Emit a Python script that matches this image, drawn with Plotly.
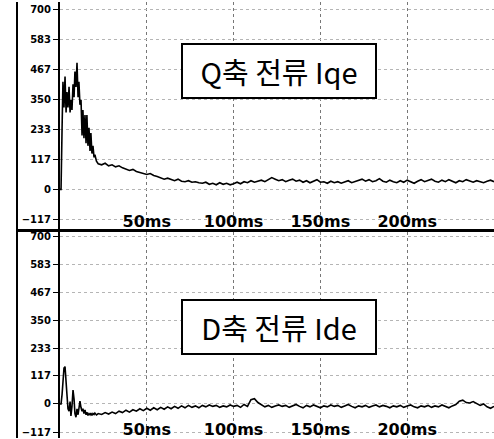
import plotly.graph_objects as go

# ---- data ----
y_ticks = [-117, 0, 117, 233, 350, 467, 583, 700]
x_ticks = [50, 100, 150, 200]
x_tick_text = ["50ms", "100ms", "150ms", "200ms"]

early_t = [0, 0.6, 1.2, 1.7, 2.3, 2.9, 3.5, 4.0, 4.6, 5.2, 5.8, 6.3, 6.9, 7.5, 8.1, 8.6,
           9.2, 9.8, 10.4, 10.9, 11.5, 12.1, 12.7, 13.2, 13.8, 14.4, 15.0, 15.5, 16.1,
           16.7, 17.3, 17.8, 18.4, 19.0, 19.6, 20.1, 21.0]
late_t = [22, 24, 26, 28, 30, 32, 34, 36, 38, 40, 42, 44, 46, 48, 50, 52, 54, 56, 58, 60,
          62, 64, 66, 68, 70, 72, 74, 76, 78, 80, 82, 84, 86, 88, 90, 92, 94, 96, 98, 100,
          102, 104, 106, 108, 110, 112, 114, 116, 118, 120, 122, 124, 126, 128, 130, 132,
          134, 136, 138, 140, 142, 144, 146, 148, 150, 152, 154, 156, 158, 160, 162, 164,
          166, 168, 170, 172, 174, 176, 178, 180, 182, 184, 186, 188, 190, 192, 194, 196,
          198, 200, 202, 204, 206, 208, 210, 212, 214, 216, 218, 220, 222, 224, 226, 228,
          230, 232, 234, 236, 238, 240, 242, 244, 246, 248, 250]
time_ms = early_t + late_t

iqe_early = [0, 0, 240, 420, 320, 440, 300, 380, 320, 400, 300, 350, 310, 410, 360, 460,
             400, 494, 360, 420, 330, 350, 210, 310, 200, 290, 180, 290, 170, 240, 150,
             220, 140, 170, 125, 135, 110]
iqe_late = [100, 96, 102, 92, 96, 88, 92, 84, 80, 74, 78, 70, 66, 62, 58, 62, 54, 50, 46, 40,
            44, 38, 34, 40, 32, 30, 34, 28, 30, 26, 24, 28, 20, 24, 18, 26, 20, 24, 18, 22,
            28, 22, 30, 26, 34, 28, 32, 36, 30, 38, 46, 40, 34, 38, 30, 36,
            40, 32, 36, 28, 34, 26, 32, 38, 28, 30, 24, 32, 26, 30, 24, 28,
            34, 26, 30, 36, 40, 32, 38, 30, 34, 42, 32, 28, 36, 30, 26, 34,
            28, 36, 30, 24, 32, 38, 30, 34, 40, 32, 28, 36, 30, 38, 32, 26,
            34, 30, 38, 32, 28, 34, 30, 26, 32, 36, 30]
iqe = iqe_early + iqe_late

ide_early = [0, 0, 40, 100, 150, 156, 110, 40, -20, -30, 10, -50, -10, 58, 20, -40,
             -55, -20, -45, -10, 12, -15, -30, -20, -40, -25, -45, -35, -48, -40, -45,
             -38, -48, -40, -44, -38, -46]
ide_late = [-40, -44, -36, -42, -34, -40, -30, -36, -26, -34, -24, -30, -20, -28, -18, -26,
            -16, -24, -14, -22, -12, -20, -10, -18, -8, -16, -6, -14, -8, -16, -6, -12,
            -4, -10, -6, -14, -8, -12, -4, -10, -6, -14, -2, -10, 18, 22, 6, -4, -12, -6,
            -14, -8, -4, -10, -6, -14, -8, -2, -10, -16, -6, -12, -4, -10, -16, -8, -12,
            -4, -10, -6, -14, -8, -2, -10, -16, -8, -12, -6, -14, -8, -4, -12, -6, -10,
            -16, -8, -12, -6, -14, -8, -4, -12, -16, -8, -12, -6, -14, -8, -12, -4, -10,
            -16, -8, -2, 12, 16, 6, 4, 10, 2, -6, 0, -12, -18, -10]
ide = ide_early + ide_late

q_label = "Q축 전류 Iqe"
d_label = "D축 전류 Ide"

# ---- figure ----
fig = go.Figure()
fig.add_trace(go.Scatter(x=time_ms, y=iqe, mode="lines", xaxis="x", yaxis="y",
                         line=dict(color="black", width=1.6), showlegend=False))
fig.add_trace(go.Scatter(x=time_ms, y=ide, mode="lines", xaxis="x2", yaxis="y2",
                         line=dict(color="black", width=1.6), showlegend=False))

W, H = 494, 439
ML = 60
top_split = 230
y_top_dom = [1 - top_split / H, 1]
y_bot_dom = [0, 1 - (top_split + 2) / H]

tickfont_y = dict(family="DejaVu Sans", size=10, color="black", weight="bold")
tickfont_x = dict(family="DejaVu Sans", size=16, color="black", weight="bold")

common_x = dict(range=[0, 250], tickvals=x_ticks, ticktext=x_tick_text,
                ticks="", ticklabelstandoff=-20, showgrid=True,
                gridcolor="#777", griddash="dot", gridwidth=1, zeroline=False,
                tickfont=tickfont_x, showline=False)
common_y = dict(tickvals=y_ticks, ticks="outside", ticklen=5, tickwidth=1,
                tickcolor="black", showgrid=True, gridcolor="#b5b5b5",
                griddash="dot", gridwidth=1, zeroline=False, tickfont=tickfont_y,
                showline=True, linecolor="black", linewidth=2)

fig.update_layout(
    width=W, height=H,
    margin=dict(l=ML, r=0, t=0, b=0),
    paper_bgcolor="white", plot_bgcolor="white",
    xaxis=dict(domain=[0, 1], anchor="y", **common_x),
    yaxis=dict(domain=y_top_dom, anchor="x", range=[-160, 731], **common_y),
    xaxis2=dict(domain=[0, 1], anchor="y2", **common_x),
    yaxis2=dict(domain=y_bot_dom, anchor="x2", range=[-142, 716], **common_y),
)

pw = W - ML
left_border = (17 - ML) / pw
split_y = 1 - top_split / H
fig.add_shape(type="line", xref="paper", yref="paper", x0=left_border, x1=1,
              y0=split_y, y1=split_y, line=dict(color="black", width=3))
fig.add_shape(type="line", xref="paper", yref="paper", x0=left_border, x1=left_border,
              y0=0, y1=1, line=dict(color="black", width=2))

box_font = dict(family="Noto Sans CJK KR", size=29, color="black")
for label, cy in [(q_label, 69), (d_label, 327)]:
    fig.add_annotation(text=label, xref="paper", yref="paper",
                       x=(279 - ML) / pw, y=1 - cy / H, xanchor="center", yanchor="middle",
                       showarrow=False, font=box_font, bgcolor="white",
                       bordercolor="black", borderwidth=2, borderpad=7,
                       width=178, height=38)

fig.write_html("out.html",
               config={"displayModeBar": False},
               post_script="document.body.style.margin='0';document.body.style.overflow='hidden';")
